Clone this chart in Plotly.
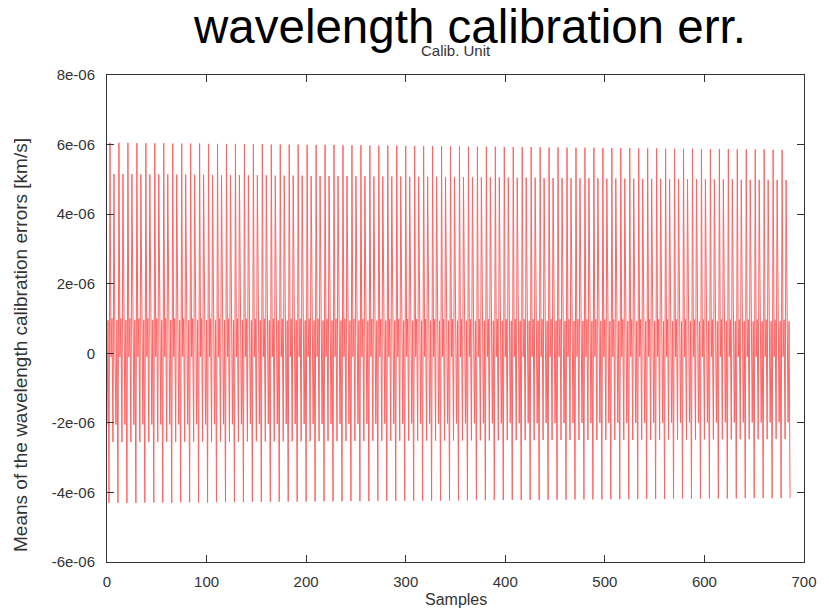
import plotly.graph_objects as go

# One 9-sample cycle of the calibration-error signal (units of 1e-6 km/s)
cycle_pattern = [6.05, -0.1, 1.0, -2.55, 5.15, 0.0, -2.05, 0.95, -4.3]
# Tall-peak value of each of the 76 cycles (1e-6 km/s), slowly decreasing
cycle_peaks = [6.05, 6.05, 6.05, 6.04, 6.04, 6.04, 6.04, 6.03, 6.03, 6.03,
               6.03, 6.02, 6.02, 6.02, 6.02, 6.01, 6.01, 6.01, 6.00, 6.00,
               6.00, 6.00, 5.99, 5.99, 5.99, 5.99, 5.98, 5.98, 5.98, 5.97,
               5.97, 5.97, 5.97, 5.96, 5.96, 5.96, 5.96, 5.95, 5.95, 5.95,
               5.94, 5.94, 5.94, 5.94, 5.93, 5.93, 5.93, 5.93, 5.92, 5.92,
               5.92, 5.91, 5.91, 5.91, 5.91, 5.90, 5.90, 5.90, 5.90, 5.89,
               5.89, 5.89, 5.88, 5.88, 5.88, 5.88, 5.87, 5.87, 5.87, 5.87,
               5.86, 5.86, 5.86, 5.86, 5.85, 5.85]
lead_in = [-2.05, 0.95, -4.3]         # samples 0..2 before first full cycle
first_cycle_sample = 3
last_sample = 686

x_ticks = [0, 100, 200, 300, 400, 500, 600, 700]
y_tick_vals = [-6e-06, -4e-06, -2e-06, 0, 2e-06, 4e-06, 6e-06, 8e-06]
y_tick_text = ["-6e-06", "-4e-06", "-2e-06", "0", "2e-06", "4e-06", "6e-06", "8e-06"]

xs, ys = [], []
for i, v in enumerate(lead_in):
    xs.append(i)
    ys.append(v * 1e-6)
s = first_cycle_sample
base = cycle_pattern[0]
for peak in cycle_peaks:
    f = peak / base
    for v in cycle_pattern:
        xs.append(s)
        ys.append(v * f * 1e-6)
        s += 1
for v in cycle_pattern:
    if s > last_sample:
        break
    xs.append(s)
    ys.append(v * (cycle_peaks[-1] / base) * 1e-6)
    s += 1

fig = go.Figure()
fig.add_trace(go.Scatter(x=xs, y=ys, mode="lines",
                         line=dict(color="rgb(255,100,100)", width=1),
                         showlegend=False, hoverinfo="skip"))

font_family = "Liberation Sans, Arial, Helvetica, sans-serif"
axis_common = dict(showgrid=False, zeroline=False, showline=True, linecolor="#333",
                   linewidth=1, mirror="allticks", ticks="inside", ticklen=7,
                   tickcolor="#333", tickfont=dict(family=font_family, size=15, color="#333"))

fig.update_layout(
    width=829, height=614,
    margin=dict(l=107, r=17, t=75, b=52),
    paper_bgcolor="white", plot_bgcolor="white",
    xaxis=dict(range=[0, 700], tickvals=x_ticks, ticktext=[str(t) for t in x_ticks],
               ticklabelstandoff=6, **axis_common),
    yaxis=dict(range=[-6e-06, 8e-06], tickvals=y_tick_vals, ticktext=y_tick_text,
               ticklabelstandoff=8, **axis_common),
    annotations=[
        dict(text="wavelength calibration err.", xref="paper", yref="paper",
             x=0.5206, y=1.1006, xanchor="center", yanchor="middle", showarrow=False,
             font=dict(family=font_family, size=47.5, color="black")),
        dict(text="Calib. Unit", xref="paper", yref="paper",
             x=0.5, y=1.0504, xanchor="center", yanchor="middle", showarrow=False,
             font=dict(family=font_family, size=15, color="#333")),
        dict(text="Means of the wavelength calibration errors [km/s]", xref="paper", yref="paper",
             x=-0.1234, y=0.4456, xanchor="center", yanchor="middle", showarrow=False,
             textangle=-90, font=dict(family=font_family, size=19, color="#333")),
        dict(text="Samples", xref="paper", yref="paper",
             x=0.5, y=-0.078, xanchor="center", yanchor="middle", showarrow=False,
             font=dict(family=font_family, size=16, color="#333")),
    ],
)

fig.write_html("out.html")
